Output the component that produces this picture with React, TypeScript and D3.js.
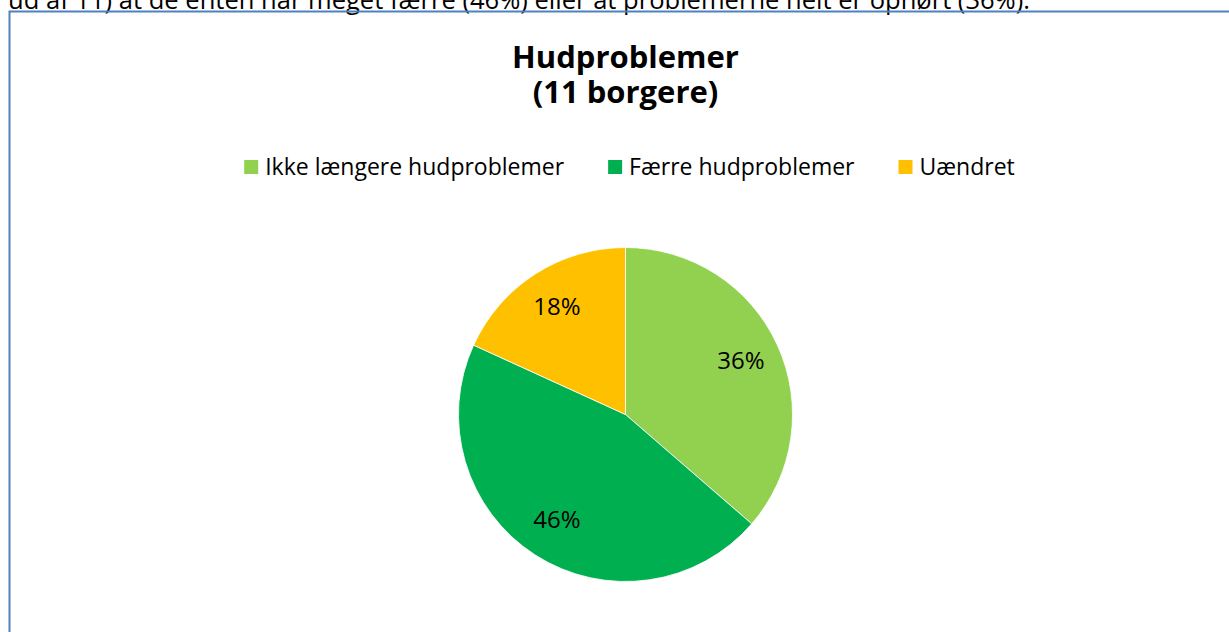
import React, { useEffect, useRef } from "react";
import * as d3 from "d3";

const categories = ["Ikke længere hudproblemer", "Færre hudproblemer", "Uændret"];
const counts = [4, 5, 2];
const labels = ["36%", "46%", "18%"];
const colors = ["#92D050", "#00B050", "#FFC000"];
const titleLines = ["Hudproblemer", "(11 borgere)"];
const bodyText = "ud af 11) at de enten har meget færre (46%) eller at problemerne helt er ophørt (36%).";

const W = 1229;
const H = 632;
const FONT = "'Open Sans', 'Noto Sans', sans-serif";

export default function App() {
  const ref = useRef<SVGSVGElement | null>(null);

  useEffect(() => {
    const svg = d3.select(ref.current);
    svg.selectAll("*").remove();

    // body text cut at top
    svg.append("text")
      .attr("x", 8)
      .attr("y", 8.5)
      .attr("font-family", FONT)
      .attr("font-size", 25)
      .attr("textLength", 1022)
      .attr("lengthAdjust", "spacingAndGlyphs")
      .attr("fill", "#000")
      .text(bodyText);

    // chart frame
    svg.append("path")
      .attr("d", `M9.5,${H + 10} V11.5 H${W + 10}`)
      .attr("fill", "none")
      .attr("stroke", "#4F81BD")
      .attr("stroke-width", 2);

    // title
    const cx = 625.5;
    const title = svg.append("text")
      .attr("text-anchor", "middle")
      .attr("font-family", FONT)
      .attr("font-weight", "bold")
      .attr("font-size", 31)
      .attr("fill", "#000");
    titleLines.forEach((t, i) => {
      title.append("tspan").attr("x", cx).attr("y", 68 + i * 35).text(t);
    });

    // legend
    const legendY = 175;
    const sq = 14;
    const sqGap = 7;
    const itemGap = 44;
    const lg = svg.append("g");
    const items = categories.map((c, i) => {
      const g = lg.append("g");
      g.append("rect").attr("width", sq).attr("height", sq).attr("y", legendY - 15).attr("fill", colors[i]);
      const t = g.append("text")
        .attr("x", sq + sqGap)
        .attr("y", legendY)
        .attr("font-family", FONT)
        .attr("font-size", 23)
        .attr("fill", "#000")
        .text(c);
      const w = (t.node() as SVGTextElement).getComputedTextLength();
      return { g, w: sq + sqGap + w };
    });
    const total = d3.sum(items, (d) => d.w) + itemGap * (items.length - 1);
    let x = 629.5 - total / 2;
    items.forEach((it) => {
      it.g.attr("transform", `translate(${x},0)`);
      x += it.w + itemGap;
    });

    // pie
    const r = 167;
    const pcx = 625.5;
    const pcy = 414.5;
    const pie = d3.pie<number>().sort(null).value((d) => d);
    const arcs = pie(counts);
    const arc = d3.arc<d3.PieArcDatum<number>>().innerRadius(0).outerRadius(r);
    const labelArc = d3.arc<d3.PieArcDatum<number>>().innerRadius(r * 0.76).outerRadius(r * 0.76);
    const pg = svg.append("g").attr("transform", `translate(${pcx},${pcy})`);
    pg.selectAll("path.slice")
      .data(arcs)
      .enter()
      .append("path")
      .attr("class", "slice")
      .attr("d", arc)
      .attr("fill", (_d, i) => colors[i])
      .attr("stroke", "#fff")
      .attr("stroke-width", 0.8);
    pg.selectAll("text.lbl")
      .data(arcs)
      .enter()
      .append("text")
      .attr("class", "lbl")
      .attr("transform", (d) => `translate(${labelArc.centroid(d)})`)
      .attr("text-anchor", "middle")
      .attr("dy", "0.3em")
      .attr("font-family", FONT)
      .attr("font-size", 24)
      .attr("fill", "#000")
      .text((_d, i) => labels[i]);
  }, []);

  return (
    <svg
      ref={ref}
      width={W}
      height={H}
      style={{ position: "absolute", left: 0, top: 0, background: "#fff", overflow: "hidden" }}
    />
  );
}
